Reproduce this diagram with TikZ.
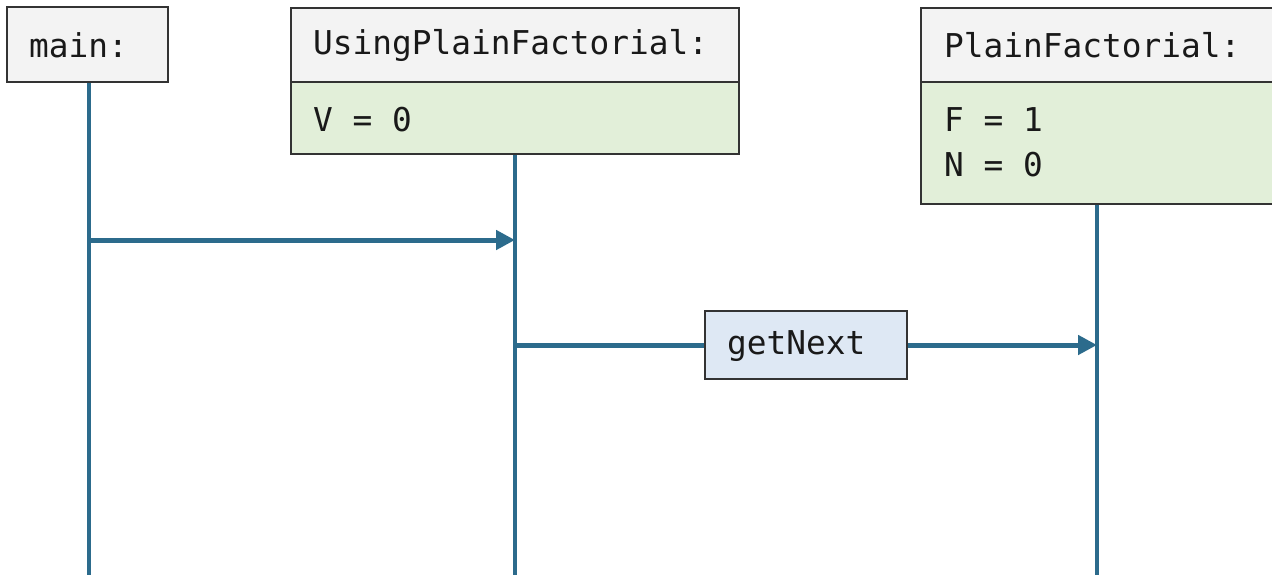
\documentclass[tikz,border=0pt]{standalone}
\usepackage{fontspec}
\setmonofont{DejaVu Sans Mono}
\usetikzlibrary{arrows.meta}
\definecolor{lifeblue}{HTML}{2C6B8C}
\definecolor{headgray}{HTML}{F3F3F3}
\definecolor{bodygreen}{HTML}{E2EFD9}
\definecolor{msgblue}{HTML}{DEE8F4}
\definecolor{edgegray}{HTML}{333333}
\tikzset{
  hdr/.style={draw=edgegray, line width=1.5pt, fill=headgray},
  bdy/.style={draw=edgegray, line width=1.5pt, fill=bodygreen},
  lbl/.style={anchor=west, inner sep=0pt, font=\ttfamily\fontsize{32.8}{40}\selectfont, text=black!90},
  lifeline/.style={draw=lifeblue, line width=3.5pt},
  msg/.style={draw=lifeblue, line width=5pt, -{Triangle[length=19pt,width=19pt]}},
  msgline/.style={draw=lifeblue, line width=5pt},
  msgbox/.style={draw=edgegray, line width=1.5pt, fill=msgblue, minimum width=202pt, minimum height=68pt, inner sep=0pt}
}
\begin{document}
\begin{tikzpicture}[x=1pt,y=-1pt]
\useasboundingbox (0,0) rectangle (1272,575);
% lifelines
\coordinate (mtop) at (89,82);
\coordinate (mbot) at (89,575);
\coordinate (utop) at (515,154);
\coordinate (ubot) at (515,575);
\coordinate (ptop) at (1097,204);
\coordinate (pbot) at (1097,575);
\draw[lifeline] (mtop) -- (mbot);
\draw[lifeline] (utop) -- (ubot);
\draw[lifeline] (ptop) -- (pbot);
% boxes
\path[hdr] (7,7) rectangle (168,82);
\node[lbl] (mainlbl) at (29,45) {main:};
\path[hdr] (291,8) rectangle (739,82);
\path[bdy] (291,82) rectangle (739,154);
\node[lbl] (ulbl) at (313,45) {UsingPlainFactorial:};
\node[lbl] (uvar) at (313,120) {V = 0};
\path[hdr] (921,8) rectangle (1274,82);
\path[bdy] (921,82) rectangle (1274,204);
\node[lbl] (plbl) at (944,45) {PlainFactorial:};
\node[lbl] (pvar1) at (944,120) {F = 1};
\node[lbl] (pvar2) at (944,165) {N = 0};
% messages
\coordinate (m1) at (89,240);
\coordinate (u1) at (515,240);
\draw[msg] (m1) -- (u1);
\coordinate (u2) at (515,345);
\coordinate (p2) at (1097,345);
\node[msgbox] (gn) at (806,345) {};
\node[lbl] (gnlbl) at (727,346) {getNext};
\draw[msgline] (u2) -- (gn.west);
\draw[msg] (gn.east) -- (p2);
\end{tikzpicture}
\end{document}
